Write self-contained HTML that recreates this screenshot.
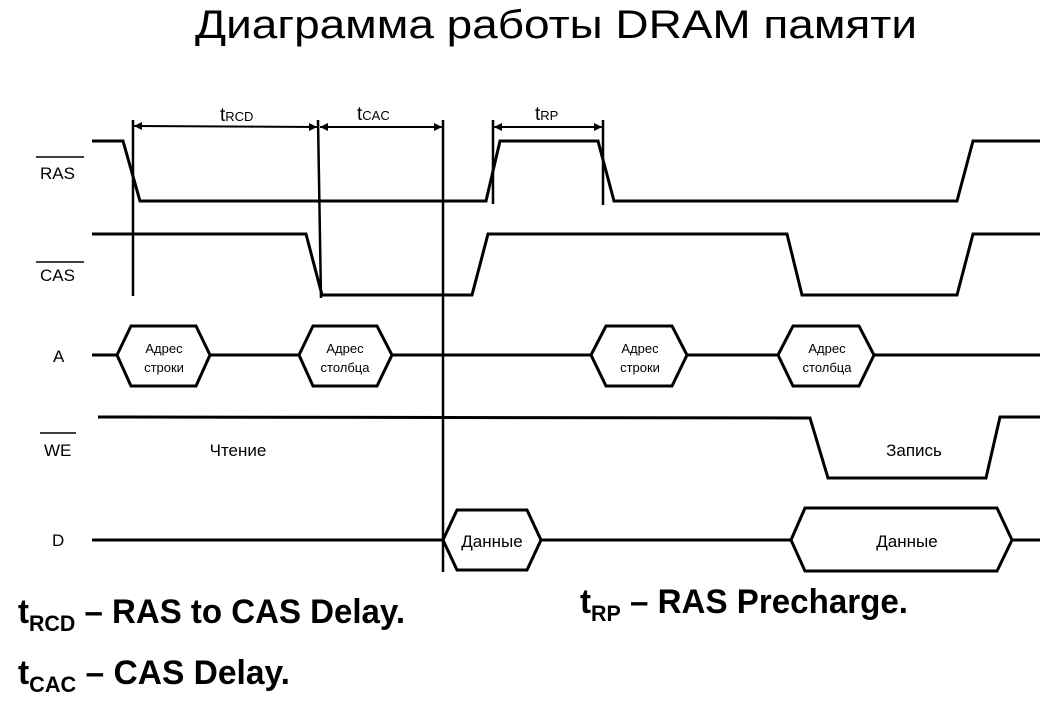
<!DOCTYPE html>
<html><head><meta charset="utf-8"><style>
html,body{margin:0;padding:0;background:#fff;width:1060px;height:709px;overflow:hidden}
svg{display:block}
text{font-family:"Liberation Sans",sans-serif;fill:#000}
</style></head><body>
<svg width="1060" height="709" viewBox="0 0 1060 709" xmlns="http://www.w3.org/2000/svg">
<defs>
<marker id="ah" viewBox="0 0 10 10" refX="10" refY="5" markerWidth="8" markerHeight="8" orient="auto-start-reverse" markerUnits="userSpaceOnUse"><path d="M0,0 L10,5 L0,10 z" fill="#000"/></marker>
</defs>
<text x="556" y="38" font-size="40" text-anchor="middle" textLength="722" lengthAdjust="spacingAndGlyphs">Диаграмма работы DRAM памяти</text>

<g stroke="#000" stroke-width="3" fill="none">
<!-- RAS -->
<polyline points="92,141 123,141 140,201 486,201 500,141 598,141 614,201 957,201 973,141 1040,141"/>
<!-- CAS -->
<polyline points="92,234 306,234 322,295 472,295 488,234 787,234 802,295 957,295 973,234 1040,234"/>
<!-- A -->
<line x1="92" y1="355" x2="117" y2="355"/>
<polygon points="117,355 131,326 196,326 210,355 196,386 131,386"/>
<line x1="210" y1="355" x2="299" y2="355"/>
<polygon points="299,355 313,326 377,326 392,355 377,386 313,386"/>
<line x1="392" y1="355" x2="591" y2="355"/>
<polygon points="591,355 606,326 672,326 687,355 672,386 606,386"/>
<line x1="687" y1="355" x2="778" y2="355"/>
<polygon points="778,355 793,326 859,326 874,355 859,386 793,386"/>
<line x1="874" y1="355" x2="1040" y2="355"/>
<!-- WE -->
<polyline points="98,417 810,418 828,478 986,478 1000,417 1040,417"/>
<!-- D -->
<line x1="92" y1="540" x2="443" y2="540"/>
<polygon points="443,540 457,510 527,510 541,540 527,570 457,570"/>
<line x1="541" y1="540" x2="791" y2="540"/>
<polygon points="791,540 805,508 997,508 1012,540 997,571 805,571"/>
<line x1="1012" y1="540" x2="1040" y2="540"/>
</g>
<g stroke="#000" stroke-width="2.5" fill="none">
<line x1="133" y1="120" x2="133" y2="296"/>
<line x1="318" y1="120" x2="321" y2="298"/>
<line x1="443" y1="120" x2="443" y2="572"/>
<line x1="493" y1="120" x2="493" y2="204"/>
<line x1="603" y1="120" x2="603" y2="205"/>
</g>
<g stroke="#000" stroke-width="2" fill="none">
<line x1="134" y1="126" x2="317" y2="127" marker-start="url(#ah)" marker-end="url(#ah)"/>
<line x1="320" y1="127" x2="442" y2="127" marker-start="url(#ah)" marker-end="url(#ah)"/>
<line x1="494" y1="127" x2="602" y2="127" marker-start="url(#ah)" marker-end="url(#ah)"/>
</g>
<text x="220" y="121" font-size="19">t<tspan font-size="13">RCD</tspan></text>
<text x="357" y="120" font-size="19">t<tspan font-size="13">CAC</tspan></text>
<text x="535" y="120" font-size="19">t<tspan font-size="13">RP</tspan></text>

<g font-size="17">
<text x="40" y="179">RAS</text>
<text x="40" y="281">CAS</text>
<text x="53" y="362">A</text>
<text x="44" y="456">WE</text>
<text x="52" y="546">D</text>
</g>
<g stroke="#000" stroke-width="1.5">
<line x1="36" y1="157" x2="84" y2="157"/>
<line x1="36" y1="262" x2="84" y2="262"/>
<line x1="40" y1="433" x2="76" y2="433"/>
</g>

<g font-size="13" text-anchor="middle">
<text x="164" y="353">Адрес</text><text x="164" y="372">строки</text>
<text x="345" y="353">Адрес</text><text x="345" y="372">столбца</text>
<text x="640" y="353">Адрес</text><text x="640" y="372">строки</text>
<text x="827" y="353">Адрес</text><text x="827" y="372">столбца</text>
</g>
<g font-size="17" text-anchor="middle">
<text x="238" y="456">Чтение</text>
<text x="914" y="456">Запись</text>
<text x="492" y="547">Данные</text>
<text x="907" y="547">Данные</text>
</g>

<g font-weight="bold">
<text x="18" y="623" font-size="34" textLength="387" lengthAdjust="spacingAndGlyphs">t<tspan font-size="22" dy="8">RCD</tspan><tspan dy="-8"> – RAS to CAS Delay.</tspan></text>
<text x="18" y="684" font-size="34" textLength="272" lengthAdjust="spacingAndGlyphs">t<tspan font-size="22" dy="8">CAC</tspan><tspan dy="-8"> – CAS Delay.</tspan></text>
<text x="580" y="613" font-size="34" textLength="328" lengthAdjust="spacingAndGlyphs">t<tspan font-size="22" dy="8">RP</tspan><tspan dy="-8"> – RAS Precharge.</tspan></text>
</g>
</svg>
</body></html>
